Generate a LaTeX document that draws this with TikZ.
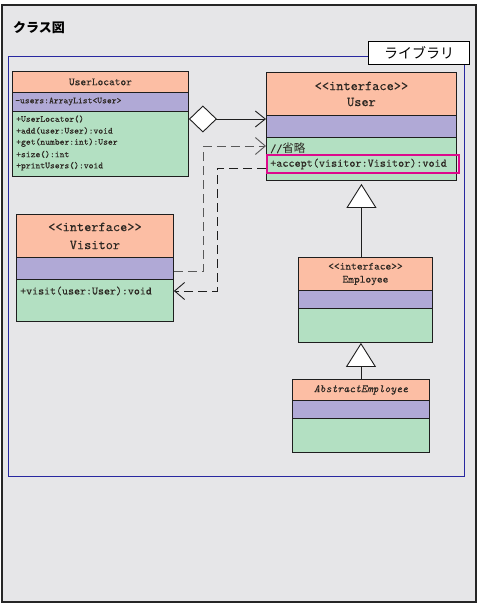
\documentclass[tikz,border=0pt]{standalone}
\usepackage{fontspec}
\setmonofont{lmmono10-regular.otf}[FakeBold=0.15, ItalicFont=lmmono10-italic.otf, ItalicFeatures={FakeBold=0.15}]
\newfontfamily\jp{Noto Sans CJK JP}
\usetikzlibrary{arrows.meta}
\definecolor{bgc}{RGB}{230,230,232}
\definecolor{hdrc}{RGB}{252,190,164}
\definecolor{attc}{RGB}{176,169,214}
\definecolor{opsc}{RGB}{179,224,194}
\definecolor{framec}{RGB}{40,40,160}
\definecolor{accpink}{RGB}{220,10,140}
\definecolor{txtc}{RGB}{45,40,35}
\definecolor{linec}{RGB}{30,30,30}
\tikzset{
  cls/.style={draw=linec, line width=0.9pt, inner sep=0pt, anchor=north west, text=txtc},
  hdr/.style={cls, fill=hdrc, align=center},
  att/.style={cls, fill=attc},
  opsbox/.style={cls, fill=opsc},
  mtxt/.style={anchor=west, inner sep=0pt, text=txtc},
  agg/.style={line width=0.9pt, draw=linec, {Diamond[fill=white,length=28pt,width=27pt,line join=miter]}-{Straight Barb[length=10pt,width=16pt]}},
  dep/.style={line width=0.9pt, dash pattern=on 9pt off 5pt, -{Straight Barb[length=10pt,width=17pt]}},
  gen/.style={line width=0.9pt, draw=linec, -{Triangle[fill=white,length=24pt,width=30pt]}}
}
\begin{document}
\begin{tikzpicture}[x=1pt,y=-1pt]
\useasboundingbox (0,0) rectangle (481,604);
\fill[white] (0,0) rectangle (481,604);
\draw[fill=bgc, draw=black!85, line width=1.2pt] (2,5) rectangle (476,602);
\node[anchor=west, inner sep=0pt, font=\jp\bfseries\fontsize{13}{15}\selectfont] (title) at (13,28) {クラス図};
\draw[framec, line width=1pt] (8,57) rectangle (464,476);
\node[draw=black, fill=white, line width=1pt, minimum width=101pt, minimum height=23pt, inner sep=0pt, anchor=north west, font=\jp\fontsize{14}{16}\selectfont] (lib) at (368,41) {ライブラリ};

% UserLocator
\node[hdr, minimum width=176pt, minimum height=21pt, font=\ttfamily\fontsize{10.9}{12}\selectfont] (ulH) at (12,71) {UserLocator};
\node[att, minimum width=176pt, minimum height=19pt] (ulA) at (12,92) {};
\node[opsbox, minimum width=176pt, minimum height=65pt] (ulO) at (12,111) {};
\node[mtxt, font=\ttfamily\fontsize{9.2}{10}\selectfont] (ulAt) at (15,101.5) {-users:ArrayList<User>};
\foreach \t [count=\i] in {+UserLocator(),+add(user:User):void,+get(number:int):User,+size():int,+printUsers():void}
  \node[mtxt, font=\ttfamily\fontsize{9.2}{10}\selectfont] (ulOp\i) at (16,{119+11.8*(\i-1)}) {\t};

% User
\node[hdr, minimum width=190pt, minimum height=43pt, font=\ttfamily\fontsize{13.7}{16}\selectfont] (uH) at (266,72) {<{}<interface>{}>\\User};
\node[att, minimum width=190pt, minimum height=22pt] (uA) at (266,115) {};
\node[opsbox, minimum width=190pt, minimum height=43pt] (uO) at (266,137) {};
\node[mtxt, font=\ttfamily\fontsize{11.6}{12}\selectfont] (uOp1) at (270,148) {//{\jp\fontsize{11.5}{12}\selectfont 省略}};
\draw[accpink, line width=1.2pt] (267,155) rectangle (459,173);
\node[mtxt, font=\ttfamily\fontsize{11.6}{12}\selectfont] (uOp2) at (270,164) {+accept(visitor:Visitor):void};

% Visitor
\node[hdr, minimum width=157pt, minimum height=43pt, font=\ttfamily\fontsize{13.7}{18}\selectfont] (vH) at (16,214) {<{}<interface>{}>\\Visitor};
\node[att, minimum width=157pt, minimum height=22pt] (vA) at (16,257) {};
\node[opsbox, minimum width=157pt, minimum height=42pt] (vO) at (16,279) {};
\node[mtxt, font=\ttfamily\fontsize{11.4}{12}\selectfont] (vOp1) at (20,291) {+visit(user:User):void};

% Employee
\node[hdr, minimum width=134pt, minimum height=33pt, font=\ttfamily\fontsize{10.9}{13}\selectfont] (eH) at (298,257) {<{}<interface>{}>\\Employee};
\node[att, minimum width=134pt, minimum height=18pt] (eA) at (298,290) {};
\node[opsbox, minimum width=134pt, minimum height=34pt] (eO) at (298,308) {};

% AbstractEmployee
\node[hdr, minimum width=137pt, minimum height=21pt, font=\ttfamily\itshape\fontsize{11.2}{12}\selectfont] (aH) at (292,379) {AbstractEmployee};
\node[att, minimum width=137pt, minimum height=18pt] (aA) at (292,400) {};
\node[opsbox, minimum width=137pt, minimum height=34pt] (aO) at (292,418) {};

% connectors
\coordinate (aggS) at ([yshift=-8pt]ulO.north east);
\draw[agg] (aggS) -- (aggS -| uA.west);

\coordinate (d1s) at ([yshift=-14pt]vA.north east);
\coordinate (d1e) at ([yshift=-9pt]uO.north west);
\draw[dep, draw=black!65] (d1s) -- ++(30,0) |- (d1e);

\coordinate (d2s) at ([yshift=-31pt]uO.north west);
\coordinate (d2e) at ([yshift=-12pt]vO.north east);
\draw[dep, draw=linec] (d2s) -- ++(-49,0) |- (d2e);

\draw[gen] (eH.north -| uO.south) -- ([yshift=-3pt]uO.south);
\draw[gen] (aH.north) -- (aH.north |- eO.south);
\end{tikzpicture}
\end{document}
